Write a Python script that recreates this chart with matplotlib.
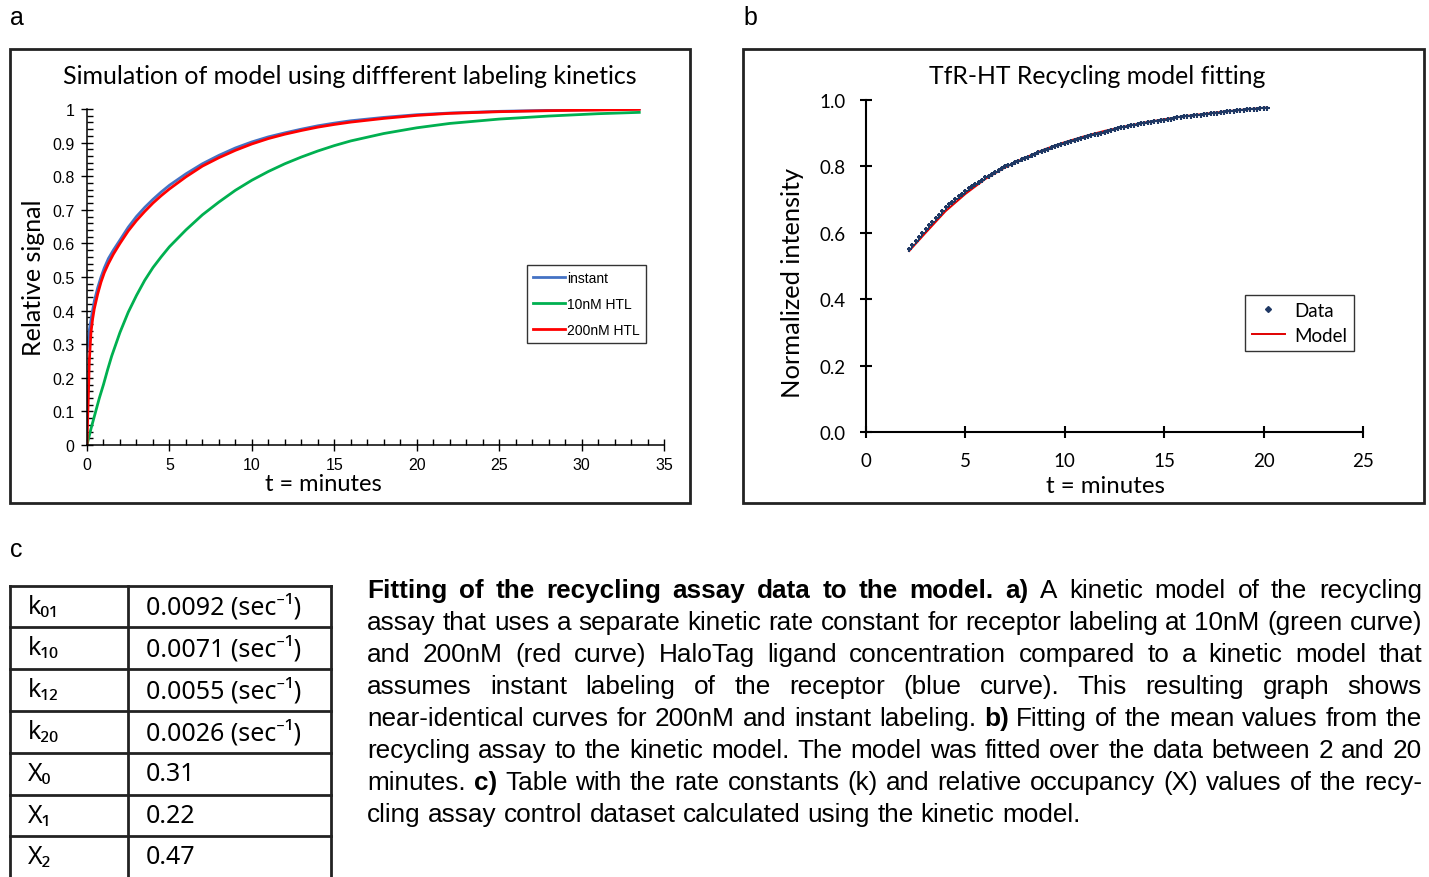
import matplotlib
matplotlib.use("Agg")
import matplotlib.pyplot as plt
from matplotlib import font_manager
from matplotlib.patches import Rectangle
from matplotlib.lines import Line2D
from matplotlib.ticker import MultipleLocator, FuncFormatter


# Panel a : simulated curves
t_instant = [0, 0.15, 0.3, 0.45, 0.65, 0.85, 1.05, 1.3, 1.6, 2, 2.5, 3, 3.5, 4,
             4.5, 5, 6, 7, 8, 9, 10, 11, 12, 13, 14, 15, 16, 18, 20, 22, 25, 28,
             31, 33.5]
y_instant = [0.28, 0.345, 0.39, 0.43, 0.468, 0.50, 0.527, 0.555, 0.58, 0.61,
             0.648, 0.68, 0.707, 0.731, 0.753, 0.773, 0.807, 0.837, 0.862,
             0.884, 0.902, 0.917, 0.929, 0.94, 0.95, 0.958, 0.965, 0.975,
             0.983, 0.988, 0.993, 0.996, 0.998, 1.0]

t_10nm = [0, 0.25, 0.5, 0.75, 1, 1.25, 1.5, 2, 2.5, 3, 3.5, 4, 4.5, 5, 6, 7, 8,
          9, 10, 11, 12, 13, 14, 15, 16, 18, 20, 22, 25, 28, 31, 33.5]
y_10nm = [0, 0.05, 0.095, 0.14, 0.18, 0.224, 0.265, 0.335, 0.395, 0.445, 0.49,
          0.528, 0.56, 0.59, 0.64, 0.685, 0.723, 0.758, 0.788, 0.814, 0.837,
          0.857, 0.875, 0.891, 0.905, 0.927, 0.944, 0.957, 0.97, 0.979, 0.986,
          0.99]

t_200nm = [0, 0.04, 0.08, 0.14, 0.24, 0.34, 0.44, 0.65, 0.85, 1.05, 1.3, 1.6, 2,
           2.5, 3, 3.5, 4, 4.5, 5, 6, 7, 8, 9, 10, 11, 12, 13, 14, 15, 16, 18,
           20, 22, 25, 28, 31, 33.5]
y_200nm = [0, 0.08, 0.14, 0.25, 0.335, 0.375, 0.405, 0.45, 0.485, 0.513, 0.54,
           0.568, 0.60, 0.637, 0.668, 0.695, 0.72, 0.742, 0.762, 0.798, 0.83,
           0.855, 0.877, 0.896, 0.912, 0.925, 0.936, 0.946, 0.954, 0.961,
           0.972, 0.981, 0.987, 0.992, 0.995, 0.997, 0.999]

# Panel b : measured data (10 s sampling) and fitted model
t_data_sec = [130, 140, 150, 160, 170, 180, 190, 200, 210, 220, 230, 240, 250,
              260, 270, 280, 290, 300, 310, 320, 330, 340, 350, 360, 370, 380,
              390, 400, 410, 420, 430, 440, 450, 460, 470, 480, 490, 500, 510,
              520, 530, 540, 550, 560, 570, 580, 590, 600, 610, 620, 630, 640,
              650, 660, 670, 680, 690, 700, 710, 720, 730, 740, 750, 760, 770,
              780, 790, 800, 810, 820, 830, 840, 850, 860, 870, 880, 890, 900,
              910, 920, 930, 940, 950, 960, 970, 980, 990, 1000, 1010, 1020,
              1030, 1040, 1050, 1060, 1070, 1080, 1090, 1100, 1110, 1120, 1130,
              1140, 1150, 1160, 1170, 1180, 1190, 1200, 1210]
y_data = [0.552, 0.564, 0.576, 0.587, 0.598, 0.610, 0.622, 0.633, 0.644, 0.655,
          0.667, 0.677, 0.686, 0.694, 0.703, 0.711, 0.718, 0.727, 0.734, 0.741,
          0.748, 0.754, 0.760, 0.767, 0.772, 0.778, 0.784, 0.789, 0.795, 0.800,
          0.804, 0.808, 0.813, 0.816, 0.821, 0.825, 0.829, 0.834, 0.838, 0.842,
          0.846, 0.850, 0.853, 0.857, 0.860, 0.863, 0.867, 0.870, 0.873, 0.876,
          0.879, 0.882, 0.885, 0.888, 0.891, 0.894, 0.897, 0.899, 0.902, 0.905,
          0.908, 0.910, 0.913, 0.915, 0.918, 0.920, 0.922, 0.924, 0.926, 0.928,
          0.930, 0.932, 0.933, 0.935, 0.936, 0.938, 0.940, 0.941, 0.943, 0.944,
          0.946, 0.948, 0.949, 0.951, 0.952, 0.953, 0.954, 0.955, 0.956, 0.957,
          0.958, 0.960, 0.961, 0.962, 0.963, 0.965, 0.966, 0.967, 0.968, 0.969,
          0.970, 0.971, 0.972, 0.973, 0.973, 0.974, 0.975, 0.976, 0.977]

t_model = [2.17, 3, 4, 5, 6, 7, 8, 9, 10, 11, 12, 13, 14, 15, 16, 17, 18, 19,
           20.13]
y_model = [0.545, 0.600, 0.665, 0.717, 0.762, 0.797, 0.826, 0.852, 0.873,
           0.891, 0.907, 0.920, 0.932, 0.942, 0.951, 0.958, 0.965, 0.971, 0.977]

# Panel c : table
row_labels = ["k₀₁", "k₁₀", "k₁₂", "k₂₀", "X₀", "X₁", "X₂"]
row_values = ["0.0092 (sec⁻¹)", "0.0071 (sec⁻¹)", "0.0055 (sec⁻¹)",
              "0.0026 (sec⁻¹)", "0.31", "0.22", "0.47"]

# Caption, one list of (text, bold) per printed line
caption_lines = [
    [("Fitting of the recycling assay data to the model. a)", True),
     ("A kinetic model of the recycling", False)],
    [("assay that uses a separate kinetic rate constant for receptor labeling at 10nM (green curve)", False)],
    [("and 200nM (red curve) HaloTag ligand concentration compared to a kinetic model that", False)],
    [("assumes instant labeling of the receptor (blue curve). This resulting graph shows", False)],
    [("near-identical curves for 200nM and instant labeling.", False), ("b)", True),
     ("Fitting of the mean values from the", False)],
    [("recycling assay to the kinetic model. The model was fitted over the data between 2 and 20", False)],
    [("minutes.", False), ("c)", True),
     ("Table with the rate constants (k) and relative occupancy (X) values of the recy-", False)],
    [("cling assay control dataset calculated using the kinetic model.", False)],
]


installed = {f.name for f in font_manager.fontManager.ttflist}
narrow = "Liberation Sans Narrow" if "Liberation Sans Narrow" in installed else "Liberation Sans"
label_font = ["Lato", "DejaVu Sans"]
table_font = ["Noto Sans", "DejaVu Sans"]

W, H = 1429, 878


def fx(x):
    return x / W


def fy(y):
    return 1 - y / H


fig = plt.figure(figsize=(W / 100, H / 100), dpi=100)
renderer = fig.canvas.get_renderer()

# Frames around panels a and b
for x0, x1 in [(10, 690), (743, 1424)]:
    fig.add_artist(Rectangle((fx(x0), fy(504)), (x1 - x0) / W, (504 - 50) / H,
                             fill=False, lw=2.0, ec="#222222",
                             transform=fig.transFigure))

# Panel letters
fig.text(fx(10), fy(18), "a", fontsize=18, family="Liberation Sans", va="center")
fig.text(fx(743), fy(18), "b", fontsize=18, family="Liberation Sans", va="center")
fig.text(fx(10), fy(550), "c", fontsize=18, family="Liberation Sans", va="center")


# ---------------- panel a ----------------
ax_a = fig.add_axes([fx(87), fy(446), (664 - 87) / W, (446 - 110) / H])
ax_a.plot(t_instant, y_instant, color="#4472C4", lw=2.0, label="instant")
ax_a.plot(t_10nm, y_10nm, color="#00B050", lw=2.0, label="10nM HTL")
ax_a.plot(t_200nm, y_200nm, color="#FF0000", lw=2.0, label="200nM HTL")
ax_a.set_xlim(0, 35)
ax_a.set_ylim(0, 1)
for side in ["top", "right"]:
    ax_a.spines[side].set_visible(False)
for side in ["left", "bottom"]:
    ax_a.spines[side].set_linewidth(1.1)
ax_a.xaxis.set_major_locator(MultipleLocator(5))
ax_a.xaxis.set_minor_locator(MultipleLocator(1))
ax_a.yaxis.set_major_locator(MultipleLocator(0.1))
ax_a.yaxis.set_minor_locator(MultipleLocator(0.02))
ax_a.yaxis.set_major_formatter(FuncFormatter(lambda v, p: "%g" % round(v, 2)))
ax_a.tick_params(which="major", direction="inout", length=8, width=1.0,
                 labelsize=11.5, pad=5)
ax_a.tick_params(which="minor", direction="in", length=4, width=1.0)
for lab in ax_a.get_xticklabels() + ax_a.get_yticklabels():
    lab.set_family(narrow)
ax_a.patch.set_alpha(0)

leg_a = ax_a.legend(loc="upper left", bbox_to_anchor=(0.7626, 0.5357),
                    frameon=True, fancybox=False, edgecolor="black",
                    prop={"family": narrow, "size": 10}, handlelength=2.3,
                    handletextpad=0.15, labelspacing=0.85, borderpad=0.45,
                    borderaxespad=0)
leg_a.get_frame().set_linewidth(1.0)

fig.text(fx(350), fy(76), "Simulation of model using diffferent labeling kinetics",
         fontsize=18, family=label_font, ha="center", va="center")
fig.text(fx(34), fy(278), "Relative signal", fontsize=18, family=label_font,
         rotation=90, ha="center", va="center")
fig.text(fx(323), fy(485), "t = minutes", fontsize=17, family=label_font,
         ha="center", va="center")


# ---------------- panel b ----------------
ax_b = fig.add_axes([fx(866), fy(433), (1363 - 866) / W, (433 - 101) / H])
ax_b.plot(t_model, y_model, color="#E00000", lw=1.4, label="Model", zorder=2)
ax_b.plot([s / 60 for s in t_data_sec], y_data, ls="none", marker="+", ms=3.6,
          mew=1.5, color="#1F3864", label="Data", zorder=3)
ax_b.set_xlim(0, 25)
ax_b.set_ylim(0, 1)
for side in ["top", "right"]:
    ax_b.spines[side].set_visible(False)
for side in ["left", "bottom"]:
    ax_b.spines[side].set_linewidth(1.5)
ax_b.xaxis.set_major_locator(MultipleLocator(5))
ax_b.yaxis.set_major_locator(MultipleLocator(0.2))
ax_b.yaxis.set_major_formatter(FuncFormatter(lambda v, p: "%.1f" % v))
ax_b.tick_params(direction="inout", length=9, width=1.5, labelsize=13.5, pad=10)
for lab in ax_b.get_xticklabels() + ax_b.get_yticklabels():
    lab.set_family(label_font)
ax_b.patch.set_alpha(0)

data_handle = Line2D([], [], ls="none", marker="D", ms=3, color="#1F3864")
model_handle = Line2D([], [], color="#E00000", lw=1.4)
leg_b = ax_b.legend([data_handle, model_handle], ["Data", "Model"],
                    loc="upper left", bbox_to_anchor=(0.7626, 0.4127),
                    frameon=True, fancybox=False, edgecolor="black",
                    prop={"family": label_font, "size": 13.5}, handlelength=1.8,
                    handletextpad=0.5, labelspacing=0.45, borderpad=0.35,
                    borderaxespad=0)
leg_b.get_frame().set_linewidth(1.0)

fig.text(fx(1097), fy(76), "TfR-HT Recycling model fitting", fontsize=17.8,
         family=label_font, ha="center", va="center")
fig.text(fx(792), fy(283), "Normalized intensity", fontsize=18.3,
         family=label_font, rotation=90, ha="center", va="center")
fig.text(fx(1105), fy(487), "t = minutes", fontsize=17.3, family=label_font,
         ha="center", va="center")


# ---------------- panel c : table ----------------
row_edges = [587, 628, 670, 712, 754, 796, 837, 878]
line_kw = dict(color="#222222", lw=2.0, transform=fig.transFigure)
for y in row_edges[:-1]:
    fig.add_artist(Line2D([fx(10), fx(331)], [fy(y), fy(y)], **line_kw))
for x in [10, 128, 331]:
    fig.add_artist(Line2D([fx(x), fx(x)], [fy(587), fy(878)], **line_kw))
for i, (lab, val) in enumerate(zip(row_labels, row_values)):
    yc = (row_edges[i] + row_edges[i + 1]) / 2
    fig.text(fx(28), fy(yc), lab, fontsize=18, family=table_font,
             ha="left", va="center")
    fig.text(fx(146), fy(yc), val, fontsize=18, family=table_font,
             ha="left", va="center")


# ---------------- caption (justified) ----------------
cap_x0, cap_x1 = 367, 1422


def text_width(s, size, bold):
    t = fig.text(0, 0, s, fontsize=size, family=narrow,
                 fontweight="bold" if bold else "normal")
    w = t.get_window_extent(renderer).width
    t.remove()
    return w


def split_words(parts):
    words = []
    for txt, bold in parts:
        for w in txt.split():
            words.append((w, bold))
    return words


# pick the size so the densest line fills the column with normal spaces
base = 17
natural = []
for parts in caption_lines[:-1]:
    words = split_words(parts)
    sp = text_width("x x", base, False) - text_width("xx", base, False)
    natural.append(sum(text_width(w, base, b) for w, b in words)
                   + sp * (len(words) - 1))
cap_size = base * (cap_x1 - cap_x0) / max(natural)
space_px = text_width("x x", cap_size, False) - text_width("xx", cap_size, False)

for k, parts in enumerate(caption_lines):
    y_base = 598 + 32 * k
    words = split_words(parts)
    artists, widths = [], []
    for w, bold in words:
        t = fig.text(0, fy(y_base), w, fontsize=cap_size, family=narrow,
                     fontweight="bold" if bold else "normal",
                     ha="left", va="baseline")
        widths.append(t.get_window_extent(renderer).width)
        artists.append(t)
    if k < len(caption_lines) - 1:
        gap = (cap_x1 - cap_x0 - sum(widths)) / (len(words) - 1)
    else:
        gap = space_px
    x = cap_x0
    for t, w in zip(artists, widths):
        t.set_x(fx(x))
        x += w + gap

fig.savefig("out.png", dpi=100)
